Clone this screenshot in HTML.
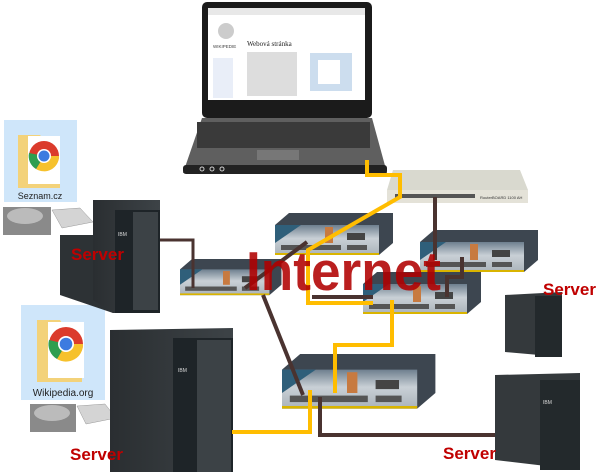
<!DOCTYPE html>
<html><head><meta charset="utf-8"><style>
body{margin:0;background:#fff;width:608px;height:472px;overflow:hidden;font-family:"Liberation Sans",sans-serif}
svg{display:block}
</style></head><body>
<svg width="608" height="472" viewBox="0 0 608 472" xmlns="http://www.w3.org/2000/svg">
<defs>
<linearGradient id="rg" x1="0" y1="0" x2="0" y2="1"><stop offset="0" stop-color="#6e7f8e"/><stop offset="0.45" stop-color="#c9d0d6"/><stop offset="1" stop-color="#aab3ba"/></linearGradient>
<linearGradient id="sv" x1="0" y1="0" x2="1" y2="0"><stop offset="0" stop-color="#2a2e31"/><stop offset="1" stop-color="#3d4347"/></linearGradient>
<g id="router">
<polygon points="0,12 14,0 118,0 118,30 104,42 0,42" fill="#3d4650"/>
<polygon points="0,12 104,12 104,42 0,42" fill="url(#rg)"/>
<polygon points="0,12 26,12 0,30" fill="#2f5f7a"/>
<rect x="50" y="14" width="8" height="16" fill="#c77a40"/>
<rect x="6" y="32" width="60" height="5" fill="#555"/>
<rect x="72" y="20" width="18" height="7" fill="#444"/>
<rect x="72" y="32" width="20" height="5" fill="#555"/>
<rect x="0" y="40" width="104" height="2" fill="#d9b400"/>
</g>
</defs>

<!-- laptop -->
<rect x="202" y="2" width="170" height="116" rx="5" fill="#1b1b1b"/>
<rect x="208" y="8" width="157" height="92" fill="#fff"/>
<rect x="208" y="8" width="157" height="7" fill="#e8e8e8"/>
<circle cx="226" cy="31" r="8" fill="#ccc"/>
<text x="213" y="48" font-size="4.5" fill="#444">WIKIPEDIE</text>
<rect x="213" y="58" width="20" height="40" fill="#e9eef8"/>
<text x="247" y="46" font-family="Liberation Serif" font-size="7" fill="#222">Webová stránka</text>
<rect x="247" y="52" width="50" height="44" fill="#ddd"/>
<rect x="310" y="53" width="42" height="38" fill="#cde"/>
<rect x="318" y="60" width="22" height="24" fill="#fff"/>
<polygon points="202,118 372,118 387,173 183,173" fill="#5f5f5f"/>
<rect x="197" y="122" width="173" height="26" fill="#3a3a3a"/>
<rect x="257" y="150" width="42" height="10" fill="#777"/>
<rect x="183" y="165" width="204" height="9" rx="3" fill="#222"/>
<circle cx="202" cy="169" r="2" fill="none" stroke="#ccc"/><circle cx="212" cy="169" r="2" fill="none" stroke="#ccc"/><circle cx="222" cy="169" r="2" fill="none" stroke="#ccc"/>

<!-- rack router -->
<polygon points="393,170 520,170 528,190 387,190" fill="#d9d9cf"/>
<rect x="387" y="190" width="141" height="13" fill="#e4e2d8"/>
<rect x="395" y="194" width="80" height="4" fill="#555"/>
<text x="480" y="199" font-size="4" fill="#333">RouterBOARD 1100 AH</text>

<!-- folders -->
<rect x="4" y="120" width="73" height="82" fill="#cfe6fa"/>
<polygon points="18,135 40,135 44,140 60,140 60,188 18,188" fill="#f3d27a"/>
<rect x="28" y="136" width="32" height="48" fill="#fff"/>
<circle cx="44" cy="156" r="15" fill="#db3b2c"/>
<path d="M44 156 L59 156 A15 15 0 0 1 36 169 Z" fill="#f6c12c"/>
<path d="M44 156 L36 169 A15 15 0 0 1 29 153 Z" fill="#2f9e4f"/>
<circle cx="44" cy="156" r="7" fill="#fff"/><circle cx="44" cy="156" r="5.5" fill="#3c7be0"/>
<text x="40" y="199" font-size="9" text-anchor="middle" fill="#222">Seznam.cz</text>

<rect x="21" y="305" width="84" height="95" fill="#cfe6fa"/>
<polygon points="37,320 60,320 64,326 82,326 82,382 37,382" fill="#f3d27a"/>
<rect x="48" y="322" width="36" height="56" fill="#fff"/>
<circle cx="66" cy="344" r="17" fill="#db3b2c"/>
<path d="M66 344 L83 344 A17 17 0 0 1 57 359 Z" fill="#f6c12c"/>
<path d="M66 344 L57 359 A17 17 0 0 1 49 340 Z" fill="#2f9e4f"/>
<circle cx="66" cy="344" r="8" fill="#fff"/><circle cx="66" cy="344" r="6.3" fill="#3c7be0"/>
<text x="63" y="396" font-size="10" text-anchor="middle" fill="#222">Wikipedia.org</text>

<!-- disks -->
<rect x="3" y="207" width="48" height="28" fill="#8a8a8a"/><ellipse cx="25" cy="216" rx="18" ry="8" fill="#bbb"/>
<polygon points="52,210 80,208 93,222 62,228" fill="#d4d4d4" stroke="#999" stroke-width=".5"/>
<rect x="30" y="404" width="46" height="28" fill="#8a8a8a"/><ellipse cx="52" cy="413" rx="18" ry="8" fill="#bbb"/>
<polygon points="77,406 105,404 116,418 86,424" fill="#d4d4d4" stroke="#999" stroke-width=".5"/>

<!-- left server -->
<polygon points="60,235 113,235 113,313 60,295" fill="#2d3235"/>
<polygon points="93,200 160,200 160,313 113,313 93,300" fill="url(#sv)"/>
<rect x="115" y="210" width="45" height="103" fill="#1e2428"/>
<rect x="133" y="212" width="25" height="98" fill="#3c4246"/>
<text x="118" y="236" font-size="5" fill="#ddd">IBM</text>
<!-- big server -->
<polygon points="110,330 233,328 233,472 110,472" fill="url(#sv)"/>
<rect x="173" y="338" width="60" height="134" fill="#1e2428"/>
<rect x="197" y="340" width="34" height="132" fill="#3c4246"/>
<text x="178" y="372" font-size="5" fill="#ddd">IBM</text>
<!-- right servers -->
<polygon points="505,295 562,292 562,357 505,352" fill="#34393c"/>
<rect x="535" y="296" width="27" height="61" fill="#23292c"/>
<polygon points="495,375 580,373 580,470 495,460" fill="#34393c"/>
<rect x="540" y="380" width="40" height="90" fill="#23292c"/>
<text x="543" y="404" font-size="5" fill="#ddd">IBM</text>

<!-- routers -->
<use href="#router" x="275" y="213"/>
<use href="#router" x="420" y="230"/>
<use href="#router" x="180" y="259" transform="translate(180,259) scale(0.86) translate(-180,-259)"/>
<use href="#router" x="363" y="272"/>
<use href="#router" x="282" y="354" transform="translate(282,354) scale(1.3) translate(-282,-354)"/>

<!-- cables -->
<g fill="none" stroke-width="4" stroke-linejoin="miter">
<polyline points="160,240 193,240 193,288" stroke="#4a3330" stroke-width="3"/>
<polyline points="245,288 307,242" stroke="#4a3330"/>
<polyline points="263,295 303,395" stroke="#4a3330"/>
<polyline points="312,297 373,297" stroke="#4a3330"/>
<polyline points="435,197 435,260" stroke="#4a3330"/>
<polyline points="462,257 462,277 447,277 447,297" stroke="#4a3330"/>
<polyline points="320,397 320,435 495,435" stroke="#4a3330"/>
<polyline points="367,160 367,175 400,175 400,197 308,250 308,303 373,303" stroke="#ffbd00"/>
<polyline points="392,300 392,345 335,345 335,393" stroke="#ffbd00"/>
<polyline points="310,390 310,432 232,432" stroke="#ffbd00"/>
</g>

<!-- labels -->
<text x="246" y="290" font-size="55" font-weight="bold" fill="#b00000" fill-opacity="0.88" textLength="195" lengthAdjust="spacingAndGlyphs">Internet</text>
<g font-size="17" font-weight="bold" fill="#c00000">
<text x="71" y="260">Server</text>
<text x="543" y="295">Server</text>
<text x="70" y="460">Server</text>
<text x="443" y="459">Server</text>
</g>
</svg>
</body></html>
